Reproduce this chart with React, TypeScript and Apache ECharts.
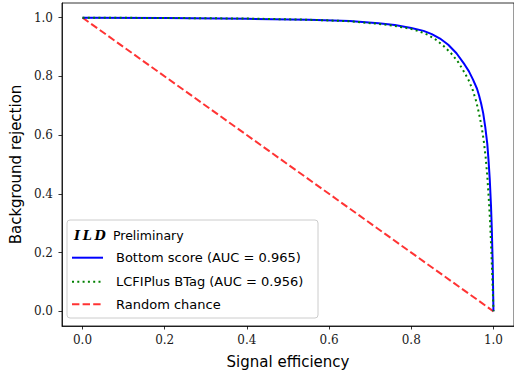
import React, { useEffect, useRef } from "react";
import * as echarts from "echarts";

const tickValues = [0, 0.2, 0.4, 0.6, 0.8, 1.0];

const bottomX = [0, 0.2, 0.4, 0.55, 0.65, 0.72, 0.76, 0.8, 0.83, 0.85, 0.87, 0.89, 0.91, 0.93, 0.94, 0.95, 0.96, 0.965, 0.97, 0.975, 0.98, 0.985, 0.988, 0.991, 0.994, 0.996, 0.998, 0.999, 1.0];
const bottomY = [1.0, 0.999, 0.996, 0.993, 0.989, 0.981, 0.975, 0.965, 0.955, 0.944, 0.929, 0.908, 0.879, 0.84, 0.818, 0.79, 0.758, 0.735, 0.708, 0.675, 0.628, 0.57, 0.515, 0.45, 0.36, 0.28, 0.17, 0.09, 0.0];

const lcfiX = [0, 0.2, 0.4, 0.55, 0.65, 0.72, 0.755, 0.796, 0.82, 0.84, 0.86, 0.88, 0.9, 0.915, 0.93, 0.94, 0.95, 0.958, 0.965, 0.971, 0.976, 0.981, 0.985, 0.989, 0.992, 0.995, 0.997, 0.999, 1.0];
const lcfiY = [1.0, 0.999, 0.997, 0.993, 0.988, 0.979, 0.973, 0.963, 0.953, 0.942, 0.925, 0.902, 0.874, 0.847, 0.812, 0.786, 0.752, 0.715, 0.673, 0.63, 0.585, 0.525, 0.46, 0.375, 0.3, 0.2, 0.125, 0.045, 0.0];

const randomX = [0, 1];
const randomY = [1, 0];

const legendLabels = ["Bottom score (AUC = 0.965)", "LCFIPlus BTag (AUC = 0.956)", "Random chance"];

const pairs = (xs: number[], ys: number[]) => xs.map((x, i) => [x, ys[i]]);

const SANS = "'DejaVu Sans', sans-serif";
const SERIF = "'DejaVu Serif', serif";

export default function App() {
  const ref = useRef<HTMLDivElement>(null);
  useEffect(() => {
    if (!ref.current) return;
    const chart = echarts.init(ref.current, null, { renderer: "svg" });
    const axisCommon = {
      type: "value" as const,
      min: -0.05,
      max: 1.05,
      splitLine: { show: false },
      axisLine: { show: true, onZero: false, lineStyle: { color: "#000", width: 0.8 } },
      axisTick: { show: true, inside: false, length: 3.5, customValues: tickValues, lineStyle: { color: "#000", width: 0.8 } },
      nameLocation: "middle" as const,
      nameTextStyle: { fontFamily: SANS, fontSize: 15, color: "#000" },
    };
    const labelCommon = {
      customValues: tickValues,
      formatter: (v: number) => v.toFixed(1),
      fontFamily: SERIF,
      fontSize: 12,
      color: "#1a1a1a",
    };
    const lineY = [257.7, 281.7, 304.3];
    chart.setOption({
      animation: false,
      grid: { left: 59, top: 3, width: 457, height: 323, show: true, borderColor: "#000", borderWidth: 0.8, containLabel: false },
      xAxis: { ...axisCommon, name: "Signal efficiency", nameGap: 28, axisLabel: { ...labelCommon, margin: 8 } },
      yAxis: { ...axisCommon, name: "Background rejection", nameGap: 35, axisLabel: { ...labelCommon, margin: 9 } },
      series: [
        {
          type: "line",
          data: pairs(randomX, randomY),
          showSymbol: false,
          lineStyle: { color: "rgba(255,0,0,0.8)", width: 2, type: [7.4, 3.2], cap: "butt" },
          z: 1,
        },
        {
          type: "line",
          data: pairs(bottomX, bottomY),
          showSymbol: false,
          lineStyle: { color: "#0000ff", width: 2 },
          z: 2,
        },
        {
          type: "line",
          data: pairs(lcfiX, lcfiY),
          showSymbol: false,
          lineStyle: { color: "#008000", width: 2, type: [2, 3.3], cap: "butt" },
          z: 3,
        },
      ],
      graphic: [
        {
          type: "rect",
          z: 100,
          shape: { x: 67, y: 220, width: 251, height: 98, r: 3 },
          style: { fill: "rgba(255,255,255,0.8)", stroke: "#cccccc", lineWidth: 1 },
        },
        {
          type: "text",
          z: 101,
          x: 74,
          y: 235.5,
          style: {
            text: "I\u2009L\u2009D",
            fontFamily: SERIF,
            fontStyle: "italic",
            fontWeight: "bold",
            fontSize: 13,
            fill: "#000",
            verticalAlign: "middle",
          },
        },
        {
          type: "text",
          z: 101,
          x: 113,
          y: 235.5,
          style: { text: "Preliminary", fontFamily: SANS, fontSize: 12.5, fill: "#000", verticalAlign: "middle" },
        },
        {
          type: "line",
          z: 101,
          shape: { x1: 72, y1: lineY[0], x2: 103, y2: lineY[0] },
          style: { stroke: "#0000ff", lineWidth: 2 },
        },
        {
          type: "line",
          z: 101,
          shape: { x1: 72, y1: lineY[1], x2: 103, y2: lineY[1] },
          style: { stroke: "#008000", lineWidth: 2, lineDash: [2, 3.3] },
        },
        {
          type: "line",
          z: 101,
          shape: { x1: 72, y1: lineY[2], x2: 103, y2: lineY[2] },
          style: { stroke: "rgba(255,0,0,0.8)", lineWidth: 2, lineDash: [7.4, 3.2] },
        },
        ...legendLabels.map((t, i) => ({
          type: "text",
          z: 101,
          x: 116,
          y: lineY[i],
          style: { text: t, fontFamily: SANS, fontSize: 13, fill: "#000", verticalAlign: "middle" },
        })),
      ],
    });
    return () => chart.dispose();
  }, []);
  return <div ref={ref} style={{ width: 514, height: 376, position: "absolute", left: 0, top: 0 }} />;
}
